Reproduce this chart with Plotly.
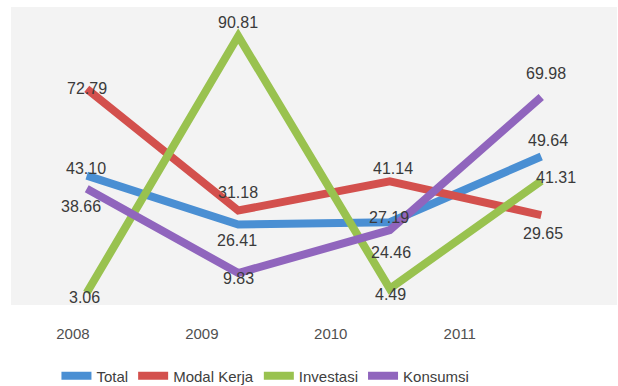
import plotly.graph_objects as go

# Categories and series values
years = ["2008", "2009", "2010", "2011"]
total = [43.10, 26.41, 27.19, 49.64]
modal_kerja = [72.79, 31.18, 41.14, 29.65]
investasi = [3.06, 90.81, 4.49, 41.31]
konsumsi = [38.66, 9.83, 24.46, 69.98]

series_names = ["Total", "Modal Kerja", "Investasi", "Konsumsi"]
series_values = [total, modal_kerja, investasi, konsumsi]
series_colors = ["#4a8fd3", "#d3504d", "#99c24f", "#9065bd"]

# Pixel offsets (dx right, dy down) of each value label from its point
label_offsets = [
    [(-1, -7), (-1, 16), (-1, -5), (7, -16)],
    [(0, 0), (0, -18), (3, -13), (2, 18)],
    [(-2, 5), (0, -14), (1, 6), (15, -3)],
    [(-6, 18), (0, 5), (1, 22), (5, -24)],
]

FONT = "Liberation Sans"

fig = go.Figure()
idx = list(range(len(years)))
for name, vals, color in zip(series_names, series_values, series_colors):
    fig.add_trace(go.Scatter(
        x=idx, y=vals, name=name, mode="lines",
        line=dict(color=color, width=8),
        hoverinfo="skip",
    ))

annotations = []
for vals, offs in zip(series_values, label_offsets):
    for i, (v, (dx, dy)) in enumerate(zip(vals, offs)):
        annotations.append(dict(
            x=i, y=v, xref="x", yref="y", text=f"{v:.2f}",
            showarrow=False, xshift=dx, yshift=-dy,
            font=dict(family=FONT, size=16, color="#3a3a3a"),
        ))

fig.update_layout(
    width=618, height=386,
    margin=dict(l=11, r=1, t=7, b=81),
    paper_bgcolor="white",
    plot_bgcolor="#f3f3f3",
    showlegend=True,
    legend=dict(
        orientation="h", x=0.075, xanchor="left",
        yref="container", y=0.026, yanchor="middle",
        font=dict(family=FONT, size=15, color="#404040"),
        itemwidth=30, tracegroupgap=0,
    ),
    annotations=annotations,
    xaxis=dict(
        range=[-0.5, 3.5], showticklabels=False, showgrid=False,
        zeroline=False, showline=False, fixedrange=True,
    ),
    xaxis2=dict(
        overlaying="x", anchor="y", side="bottom",
        range=[-0.48, 4.22], tickvals=idx, ticktext=years,
        showgrid=False, zeroline=False, showline=False,
        ticks="outside", ticklen=15, tickcolor="rgba(0,0,0,0)",
        tickfont=dict(family=FONT, size=15, color="#505050"),
    ),
    yaxis=dict(
        range=[-1.1, 100.75], showticklabels=False, showgrid=False,
        zeroline=False, showline=False,
    ),
)

# Empty trace so the secondary axis is rendered
fig.add_trace(go.Scatter(x=[None], y=[None], xaxis="x2", showlegend=False,
                         hoverinfo="skip"))

fig.write_html("out.html")
